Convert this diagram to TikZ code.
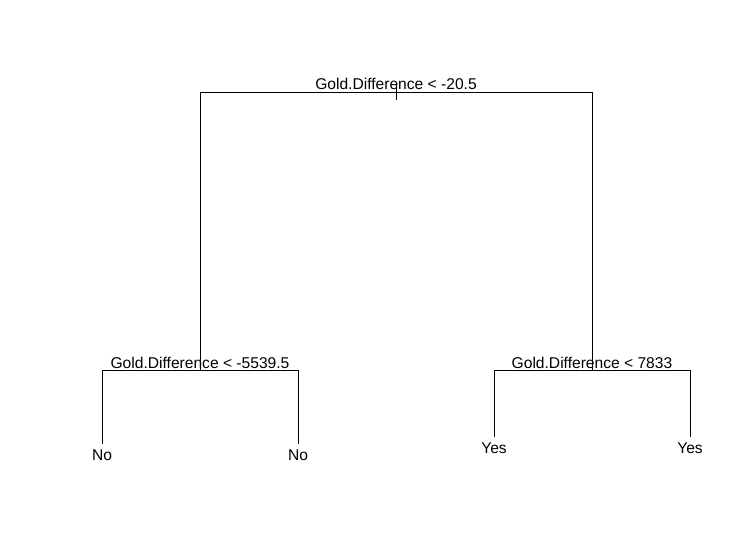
\documentclass[tikz,border=0pt]{standalone}
\usepackage{fontspec}
\setmainfont{Liberation Sans}
\begin{document}
\begin{tikzpicture}[x=1pt,y=-1pt,
  edge/.style={draw=black,line width=0.9pt},
  lbl/.style={anchor=base,inner sep=0pt,font=\fontsize{15.6}{18}\selectfont}]
\useasboundingbox (0,0) rectangle (755,556);
% tree points
\coordinate (rt) at (396,92);
\coordinate (rtA) at (396,82);
\coordinate (rtB) at (396,100);
\coordinate (rl) at (200,92);
\coordinate (rr) at (592,92);
\coordinate (L) at (200,370);
\coordinate (R) at (592,370);
\coordinate (LL) at (102,370);
\coordinate (LR) at (298,370);
\coordinate (RL) at (494,370);
\coordinate (RR) at (690,370);
\coordinate (LLe) at (102,444);
\coordinate (LRe) at (298,444);
\coordinate (RLe) at (494,437);
\coordinate (RRe) at (690,437);
% edges
\draw[edge] (rl) -- (rr);
\draw[edge] (rtA) -- (rtB);
\draw[edge] (rl) -- (L);
\draw[edge] (rr) -- (R);
\draw[edge] (LL) -- (LR);
\draw[edge] (RL) -- (RR);
\draw[edge] (LL) -- (LLe);
\draw[edge] (LR) -- (LRe);
\draw[edge] (RL) -- (RLe);
\draw[edge] (RR) -- (RRe);
% labels
\node[lbl] (t0) at (396,90) {Gold.Difference < -20.5};
\node[lbl] (t1) at (200,368) {Gold.Difference < -5539.5};
\node[lbl] (t2) at (592,368) {Gold.Difference < 7833};
\node[lbl] (n1) at (102,460) {No};
\node[lbl] (n2) at (298,460) {No};
\node[lbl] (y1) at (494,453) {Yes};
\node[lbl] (y2) at (690,453) {Yes};
\end{tikzpicture}
\end{document}
